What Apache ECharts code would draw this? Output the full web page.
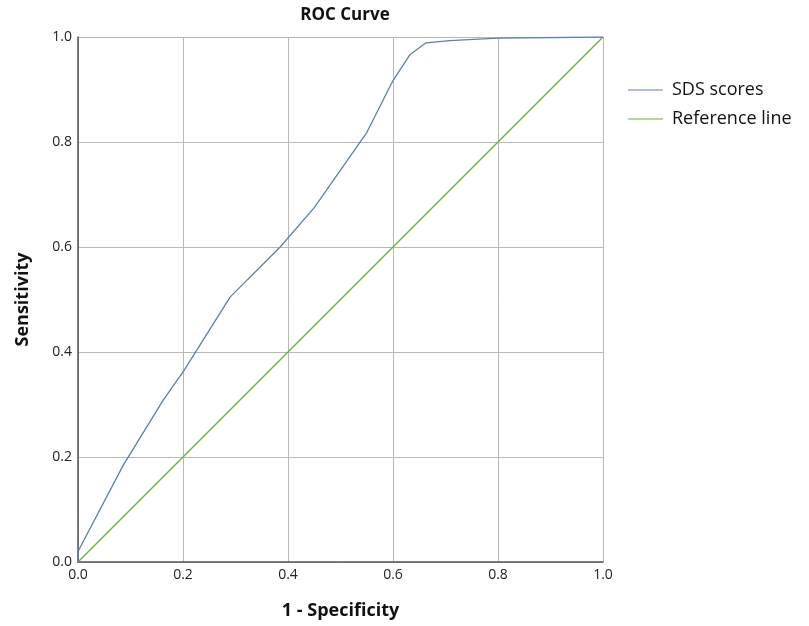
<!DOCTYPE html>
<html><head><meta charset="utf-8">
<script src="https://cdn.jsdelivr.net/npm/echarts@6/dist/echarts.min.js"></script>
<style>html,body{margin:0;padding:0;background:#fff}#c{width:809px;height:626px}</style>
</head><body><div id="c"></div>
<script>
const rocX = [0, 0, 0.086, 0.162, 0.202, 0.29, 0.385, 0.45, 0.55, 0.60, 0.632, 0.663, 0.708, 0.80, 1.0];
const rocY = [0, 0.02, 0.184, 0.308, 0.365, 0.505, 0.60, 0.675, 0.818, 0.917, 0.966, 0.989, 0.993, 0.998, 1.0];
const refX = [0, 1];
const refY = [0, 1];
const ticks = ['0.0', '0.2', '0.4', '0.6', '0.8', '1.0'];

const chart = echarts.init(document.getElementById('c'), null, {renderer: 'canvas'});
const font = '"Open Sans", sans-serif';
const fmt = v => ticks[Math.round(v * 5)];
chart.setOption({
  animation: false,
  backgroundColor: '#fff',
  title: {text: 'ROC Curve', left: 340, top: 2, textAlign: 'center',
    textStyle: {fontFamily: font, fontSize: 17, fontWeight: 'bold', color: '#111'}},
  legend: {orient: 'vertical', left: 623, top: 76, itemGap: 11, itemWidth: 35, itemHeight: 1.2,
    icon: 'rect',
    textStyle: {fontFamily: font, fontSize: 18, color: '#111', padding: [0, 0, 0, 4]},
    data: ['SDS scores', 'Reference line']},
  grid: {left: 78, right: 206, top: 37, bottom: 64},
  xAxis: {type: 'value', min: 0, max: 1, interval: 0.2,
    name: '1 - Specificity', nameLocation: 'middle', nameGap: 40,
    nameTextStyle: {fontFamily: font, fontSize: 18, fontWeight: 'bold', color: '#111'},
    axisLine: {lineStyle: {color: '#555', width: 1.5}}, axisTick: {show: false},
    axisLabel: {formatter: fmt, fontFamily: font, fontSize: 14, color: '#222', margin: 6},
    splitLine: {lineStyle: {color: '#b8b8b8'}}},
  yAxis: {type: 'value', min: 0, max: 1, interval: 0.2,
    name: 'Sensitivity', nameLocation: 'middle', nameGap: 46,
    nameTextStyle: {fontFamily: font, fontSize: 18, fontWeight: 'bold', color: '#111'},
    axisLine: {show: true, lineStyle: {color: '#555', width: 1.5}}, axisTick: {show: false},
    axisLabel: {formatter: fmt, fontFamily: font, fontSize: 14, color: '#222', margin: 6},
    splitLine: {lineStyle: {color: '#b8b8b8'}}},
  series: [
    {name: 'SDS scores', type: 'line', symbol: 'none', data: rocX.map((x, i) => [x, rocY[i]]),
      lineStyle: {color: '#5a80ad', width: 1.3}, itemStyle: {color: '#5a80ad'}, z: 3},
    {name: 'Reference line', type: 'line', symbol: 'none', data: refX.map((x, i) => [x, refY[i]]),
      lineStyle: {color: '#6aad32', width: 1.2}, itemStyle: {color: '#6aad32'}, z: 2}
  ]
});
</script></body></html>
